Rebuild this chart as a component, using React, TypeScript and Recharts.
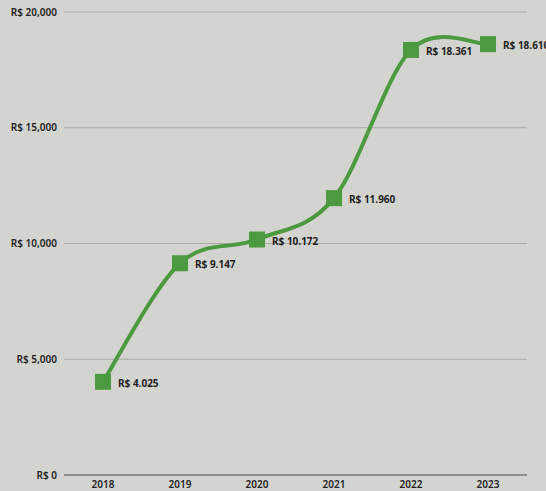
import React from 'react';
import { LineChart, Line, XAxis, YAxis, CartesianGrid } from 'recharts';

const years = ['2018', '2019', '2020', '2021', '2022', '2023'];
const revenue = [4025, 9147, 10172, 11960, 18361, 18610];
const yTicks = [0, 5000, 10000, 15000, 20000];

const data = years.map((year, i) => ({ year, value: revenue[i] }));

const GREEN = '#4c9a3f';
const FONT = '"Noto Sans", sans-serif';

const dotted = (n: number) => String(n).replace(/\B(?=(\d{3})+(?!\d))/g, '.');
const commas = (n: number) => String(n).replace(/\B(?=(\d{3})+(?!\d))/g, ',');

// Catmull-Rom style cardinal curve (tension 0), d3 curve factory interface
const cardinal = (ctx: any) => {
  let pts: [number, number][] = [];
  return {
    areaStart() {},
    areaEnd() {},
    lineStart() { pts = []; },
    point(x: number, y: number) { pts.push([+x, +y]); },
    lineEnd() {
      if (!pts.length) return;
      ctx.moveTo(pts[0][0], pts[0][1]);
      for (let i = 0; i < pts.length - 1; i++) {
        const p0 = pts[i - 1] || pts[i];
        const p1 = pts[i];
        const p2 = pts[i + 1];
        const p3 = pts[i + 2] || p2;
        ctx.bezierCurveTo(
          p1[0] + (p2[0] - p0[0]) / 6, p1[1] + (p2[1] - p0[1]) / 6,
          p2[0] - (p3[0] - p1[0]) / 6, p2[1] - (p3[1] - p1[1]) / 6,
          p2[0], p2[1]
        );
      }
    },
  };
};

const SquareDot = (props: any) => {
  const { cx, cy } = props;
  if (cx == null || cy == null) return null;
  return <rect x={cx - 8} y={cy - 8} width={16} height={16} fill={GREEN} />;
};

const ValueLabel = (props: any) => {
  const { x, y, value } = props;
  return (
    <text x={x + 15} y={y + 5} fontSize={10} fontWeight={700} fill="#1e1e1e" fontFamily={FONT}>
      {'R$ ' + dotted(value)}
    </text>
  );
};

const YTick = (props: any) => {
  const { y, payload } = props;
  return (
    <text x={57} y={y + 3.5} textAnchor="end" fontSize={10} fontWeight={600} fill="#222" fontFamily={FONT}>
      {'R$ ' + commas(payload.value)}
    </text>
  );
};

const XTick = (props: any) => {
  const { x, payload } = props;
  return (
    <text x={x} y={488} textAnchor="middle" fontSize={10} fontWeight={600} fill="#222" fontFamily={FONT}>
      {payload.value}
    </text>
  );
};

export default function App() {
  return (
    <div style={{ position: 'absolute', left: 0, top: 0, width: 546, height: 491, background: '#d3d4cf' }}>
      <LineChart width={546} height={491} data={data} margin={{ top: 12, right: 19, bottom: 0, left: 0 }}>
        <CartesianGrid vertical={false} stroke="#a9aaa6" strokeWidth={1} />
        <XAxis
          dataKey="year"
          padding={{ left: 39, right: 39 }}
          tickLine={false}
          axisLine={{ stroke: '#8f908c', strokeWidth: 2 }}
          height={16}
          tick={<XTick />}
          interval={0}
        />
        <YAxis
          domain={[0, 20000]}
          ticks={yTicks}
          width={64}
          axisLine={false}
          tickLine={false}
          tick={<YTick />}
        />
        <Line
          type={cardinal as any}
          dataKey="value"
          stroke={GREEN}
          strokeWidth={4}
          dot={<SquareDot />}
          activeDot={false}
          label={<ValueLabel />}
          isAnimationActive={false}
        />
      </LineChart>
    </div>
  );
}
